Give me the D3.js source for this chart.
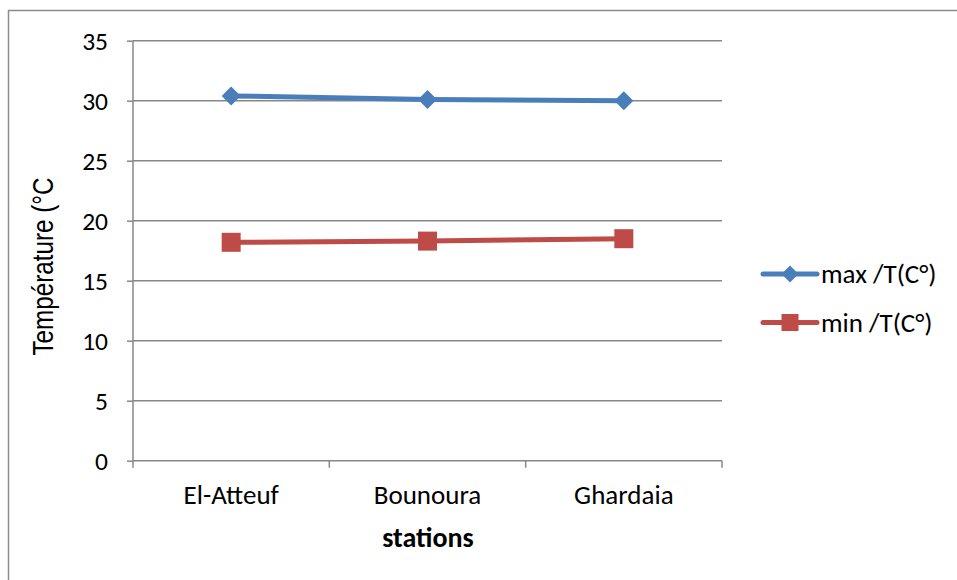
<!DOCTYPE html>
<html><head><meta charset="utf-8">
<script src="https://cdn.jsdelivr.net/npm/d3@7"></script>
<style>body{margin:0;background:#fff}svg{display:block}</style>
</head><body>
<svg id="c" width="957" height="580"></svg>
<script>
const categories = ["El-Atteuf", "Bounoura", "Ghardaia"];
const maxValues = [30.4, 30.1, 30.0];
const minValues = [18.2, 18.3, 18.5];
const yTicks = [0, 5, 10, 15, 20, 25, 30, 35];
const seriesNames = ["max /T(C°)", "min /T(C°)"];
const yTitle = "Température (°C";
const xTitle = "stations";

const svg = d3.select("#c");
const font = "Carlito, Calibri, Lato, 'Open Sans', sans-serif";
const gridColor = "#878787";
const blue = "#4a7ebb", red = "#be4b48";

svg.append("rect").attr("x", 8.5).attr("y", 10.5).attr("width", 1000).attr("height", 1000)
  .attr("fill", "#fff").attr("stroke", "#8c8c8c").attr("stroke-width", 1.5);

const L = 133, R = 722, T = 40.7, B = 460.7;
const x = d3.scaleBand().domain(categories).range([L, R]);
const y = d3.scaleLinear().domain([0, 35]).range([B, T]);

// gridlines
svg.append("g").selectAll("line").data(yTicks.filter(d => d > 0)).join("line")
  .attr("x1", L).attr("x2", R).attr("y1", d => y(d)).attr("y2", d => y(d))
  .attr("stroke", gridColor).attr("stroke-width", 1.5);

// y axis
const ya = svg.append("g").attr("transform", `translate(${L},0)`)
  .call(d3.axisLeft(y).tickValues(yTicks).tickSize(6).tickPadding(19));
ya.select(".domain").attr("stroke", gridColor).attr("stroke-width", 1.5).attr("d", `M0,${T}V${B}`);
ya.selectAll(".tick line").attr("stroke", gridColor).attr("stroke-width", 1.5);
ya.selectAll(".tick text").attr("font-family", font).attr("font-size", 25.5).attr("fill", "#000").attr("dy", "0.34em");

// x axis
const xa = svg.append("g").attr("transform", `translate(0,${B})`)
  .call(d3.axisBottom(x).tickSize(0).tickPadding(24));
xa.select(".domain").attr("stroke", gridColor).attr("stroke-width", 1.5).attr("d", `M${L},0H${R}`);
xa.selectAll(".tick text").attr("font-family", font).attr("font-size", 27).attr("fill", "#000")
  .attr("y", 43.5).attr("dy", 0);
// boundary ticks between categories
const bounds = categories.map(c => x(c)).concat([R]);
svg.append("g").selectAll("line").data(bounds).join("line")
  .attr("x1", d => d).attr("x2", d => d).attr("y1", B).attr("y2", B + 7)
  .attr("stroke", gridColor).attr("stroke-width", 1.5);

// titles
svg.append("text").attr("x", 428).attr("y", 546.5).attr("text-anchor", "middle")
  .attr("font-family", font).attr("font-weight", "bold").attr("font-size", 28).text(xTitle);
svg.append("text").attr("transform", `translate(53,266.5) rotate(-90)`).attr("text-anchor", "middle")
  .attr("font-family", "'Liberation Sans Narrow', 'Arial Narrow', 'Liberation Sans', sans-serif")
  .attr("font-size", 29).attr("textLength", 178).attr("lengthAdjust", "spacingAndGlyphs").text(yTitle);

const cx = d => x(d) + x.bandwidth() / 2;
const line = d3.line().x((d, i) => cx(categories[i])).y(d => y(d));

function diamond(g, px, py, s) {
  g.append("path").attr("d", `M${px},${py - s}L${px + s},${py}L${px},${py + s}L${px - s},${py}Z`).attr("fill", blue);
}
function square(g, px, py, s) {
  g.append("rect").attr("x", px - s).attr("y", py - s).attr("width", 2 * s).attr("height", 2 * s).attr("fill", red);
}

svg.append("path").datum(maxValues).attr("d", line).attr("fill", "none").attr("stroke", blue).attr("stroke-width", 5);
svg.append("path").datum(minValues).attr("d", line).attr("fill", "none").attr("stroke", red).attr("stroke-width", 5);
const mg = svg.append("g");
maxValues.forEach((v, i) => diamond(mg, cx(categories[i]), y(v), 9.5));
minValues.forEach((v, i) => square(mg, cx(categories[i]), y(v), 9.5));

// legend
const lg = svg.append("g");
const ly = [274, 322.5];
lg.append("line").attr("x1", 763).attr("x2", 817).attr("y1", ly[0]).attr("y2", ly[0]).attr("stroke", blue).attr("stroke-width", 5).attr("stroke-linecap", "round");
diamond(lg, 790, ly[0], 8.5);
lg.append("line").attr("x1", 763).attr("x2", 817).attr("y1", ly[1]).attr("y2", ly[1]).attr("stroke", red).attr("stroke-width", 5).attr("stroke-linecap", "round");
square(lg, 790, ly[1], 8.5);
seriesNames.forEach((n, i) => lg.append("text").attr("x", 821).attr("y", ly[i]).attr("dy", "0.34em")
  .attr("font-family", font).attr("font-size", 27).text(n));
</script>
</body></html>
